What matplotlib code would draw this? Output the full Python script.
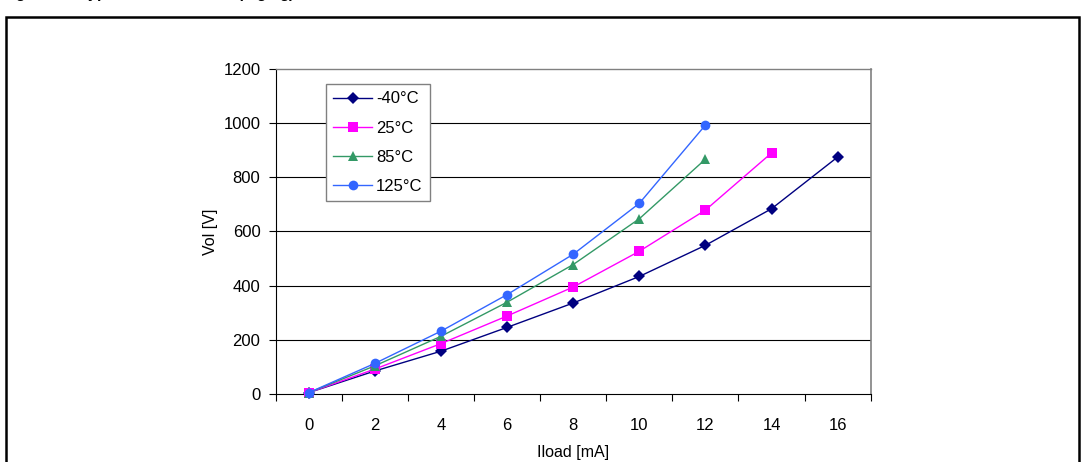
import matplotlib
matplotlib.use('Agg')
import matplotlib.pyplot as plt
from matplotlib.patches import Rectangle

plt.rcParams['font.family'] = ['Liberation Sans', 'DejaVu Sans']

# load current categories [mA]
iload = [0, 2, 4, 6, 8, 10, 12, 14, 16]

# Vol values, per temperature
v_m40 = [5, 85, 158, 246, 336, 434, 549, 684, 875]
v_25 = [5, 92, 186, 288, 395, 527, 679, 890]
v_85 = [5, 104, 213, 339, 478, 647, 867]
v_125 = [5, 113, 232, 367, 516, 704, 993]

labels = ['-40°C', '25°C', '85°C', '125°C']
series = [v_m40, v_25, v_85, v_125]
colors = ['#000080', '#FF00FF', '#339966', '#3366FF']
markers = ['D', 's', '^', 'o']
msizes = [6, 7, 7, 7]

yticks = [0, 200, 400, 600, 800, 1000, 1200]

fig = plt.figure(figsize=(10.82, 4.62), dpi=100)

# outer frame of the figure box
fig.patches.append(Rectangle((5.5 / 1082, -0.1), 1073 / 1082, 1.1 - 17.5 / 462,
                             transform=fig.transFigure, fill=False,
                             edgecolor='black', linewidth=1.8))

# title, cut off at top edge of the picture (only descenders show)
fig.text(2 / 1082, 1.0 + 2 / 462, r'Figure 15. Typical V$_{\mathbf{OL}}$ vs V$_{\mathbf{DD}}$ at (high g)',
         fontsize=11, fontweight='bold', va='baseline', ha='left')

ax = fig.add_axes([275.7 / 1082, 68 / 462, 595 / 1082, 325 / 462])

for y, lab, c, m, ms in zip(series, labels, colors, markers, msizes):
    ax.plot(iload[:len(y)], y, color=c, marker=m, markersize=ms, linewidth=1.0,
            label=lab, markeredgewidth=0, clip_on=False, zorder=3)

ax.set_xlim(-1, 17)
ax.set_ylim(0, 1200)
ax.set_yticks(yticks)
ax.set_xticks(iload)
ax.tick_params(axis='x', length=0, labelsize=12, pad=17)
ax.set_xticks(range(-1, 18, 2), minor=True)
ax.tick_params(axis='x', which='minor', length=5, direction='out', width=0.8)
ax.tick_params(axis='y', length=5, direction='out', labelsize=12, width=0.8, pad=6)

for yv in yticks[1:-1]:
    ax.axhline(yv, color='black', linewidth=0.8, zorder=1)

ax.spines['left'].set_linewidth(0.8)
ax.spines['bottom'].set_linewidth(0.8)
ax.spines['top'].set_color('#808080')
ax.spines['right'].set_color('#808080')
ax.spines['top'].set_linewidth(1.0)
ax.spines['right'].set_linewidth(1.2)

ax.set_ylabel('Vol [V]', fontsize=11.5, labelpad=4)
ax.set_xlabel('Iload [mA]', fontsize=11.5, labelpad=9)

leg = ax.legend(loc='upper left', bbox_to_anchor=(0.0845, 0.954), fontsize=12,
                frameon=True, fancybox=False, edgecolor='#808080', framealpha=1,
                handlelength=2.3, handletextpad=0.25, labelspacing=0.85,
                borderpad=0.45, borderaxespad=0)
leg.get_frame().set_linewidth(1.0)

fig.savefig('out.png', dpi=100)
